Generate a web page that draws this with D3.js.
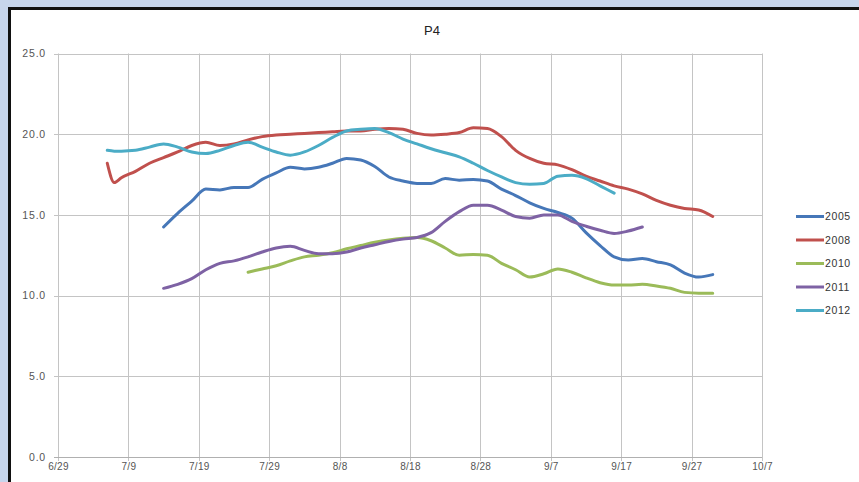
<!DOCTYPE html>
<html>
<head>
<meta charset="utf-8">
<script src="https://cdn.jsdelivr.net/npm/d3@7"></script>
<style>
  html, body { margin: 0; padding: 0; background: #c7d5ec; }
  svg { display: block; }
  text { font-family: "Liberation Sans", Arial, sans-serif; }
</style>
</head>
<body>
<svg id="chart" width="859" height="482"></svg>
<script>
// ---- data ----
const title = "P4";
const dates = ["7/6","7/7","7/8","7/10","7/12","7/14","7/16","7/18","7/20","7/22","7/24","7/26","7/28","7/30",
  "8/1","8/3","8/5","8/7","8/9","8/11","8/13","8/15","8/17","8/19","8/21","8/23","8/25","8/27","8/29","8/31",
  "9/2","9/4","9/6","9/8","9/10","9/12","9/14","9/16","9/18","9/20","9/22","9/24","9/26","9/28","9/30"];
const seriesNames = ["2005","2008","2010","2011","2012"];
const v2005 = [null,null,null,null,null,14.25,15.1,15.85,16.6,16.55,16.7,16.7,17.2,17.6,17.95,17.85,17.95,18.2,18.5,18.4,18.0,17.35,17.1,16.95,16.95,17.25,17.15,17.2,17.1,16.6,16.2,15.75,15.4,15.15,14.8,13.9,13.1,12.4,12.2,12.3,12.1,11.9,11.4,11.15,11.3];
const v2008 = [18.2,17.0,17.3,17.7,18.2,18.55,18.9,19.3,19.5,19.3,19.4,19.65,19.85,19.95,20.0,20.05,20.1,20.15,20.2,20.2,20.3,20.35,20.3,20.05,19.95,20.0,20.1,20.4,20.35,19.85,19.0,18.5,18.2,18.1,17.8,17.4,17.1,16.8,16.6,16.3,15.9,15.6,15.4,15.3,14.9];
const v2010 = [null,null,null,null,null,null,null,null,null,null,null,11.45,11.65,11.85,12.15,12.4,12.5,12.65,12.9,13.1,13.3,13.45,13.55,13.6,13.4,12.95,12.5,12.55,12.5,12.0,11.6,11.15,11.35,11.65,11.45,11.1,10.8,10.65,10.65,10.7,10.6,10.45,10.2,10.15,10.15];
const v2011 = [null,null,null,null,null,10.45,10.7,11.05,11.6,12.0,12.15,12.4,12.7,12.95,13.05,12.8,12.6,12.6,12.7,12.95,13.15,13.35,13.5,13.6,13.9,14.6,15.2,15.6,15.6,15.3,14.9,14.8,15.0,15.0,14.6,14.3,14.05,13.85,14.0,14.25,null,null,null,null,null];
const v2012 = [19.0,18.95,18.95,19.0,19.2,19.4,19.2,18.9,18.8,19.0,19.3,19.5,19.2,18.9,18.7,18.9,19.3,19.8,20.2,20.3,20.35,20.1,19.7,19.4,19.1,18.85,18.6,18.2,17.75,17.35,17.0,16.9,16.95,17.4,17.45,17.25,16.8,16.35,null,null,null,null,null,null,null];
const xTickLabels = ["6/29","7/9","7/19","7/29","8/8","8/18","8/28","9/7","9/17","9/27","10/7"];
const yTicks = [0,5,10,15,20,25];
const colors = ["#4677b8","#c0504d","#9bbb59","#7e62a4","#4bacc6"];

// ---- chart ----
const svg = d3.select("#chart");
const parse = s => d3.timeParse("%m/%d/%Y")(s + "/2012");

// white chart box with dark top/left border
svg.append("rect").attr("x", 10).attr("y", 10).attr("width", 859).attr("height", 482).attr("fill", "#ffffff");
svg.append("line").attr("x1", 9).attr("x2", 859).attr("y1", 8.5).attr("y2", 8.5).attr("stroke", "#111").attr("stroke-width", 3);
svg.append("line").attr("x1", 9.5).attr("x2", 9.5).attr("y1", 7).attr("y2", 482).attr("stroke", "#111").attr("stroke-width", 3);

const x = d3.scaleTime()
  .domain([parse(xTickLabels[0]), parse(xTickLabels[xTickLabels.length - 1])])
  .range([58, 762]);
const y = d3.scaleLinear().domain([0, 25]).range([457, 53.5]);

// gridlines
const g = svg.append("g");
g.selectAll(".vg").data(xTickLabels).join("line")
  .attr("x1", d => Math.round(x(parse(d))) + 0.5).attr("x2", d => Math.round(x(parse(d))) + 0.5)
  .attr("y1", y(25)).attr("y2", y(0) + 4)
  .attr("stroke", "#c4c4c4").attr("stroke-width", 1);
g.selectAll(".hg").data(yTicks).join("line")
  .attr("x1", 54).attr("x2", 762)
  .attr("y1", d => Math.round(y(d)) + 0.5).attr("y2", d => Math.round(y(d)) + 0.5)
  .attr("stroke", d => d === 0 ? "#b0b0b0" : "#c4c4c4").attr("stroke-width", 1);

// axes labels
const xAxis = d3.axisBottom(x).tickValues(xTickLabels.map(parse)).tickFormat(d3.timeFormat("%-m/%-d")).tickSize(0).tickPadding(6);
const xa = svg.append("g").attr("transform", `translate(0,${y(0)})`).call(xAxis);
xa.select(".domain").remove();
xa.selectAll("text").attr("font-size", 10).attr("fill", "#555").attr("letter-spacing", 0.3)
  .attr("font-family", "Liberation Sans, Arial, sans-serif");

const yAxis = d3.axisLeft(y).tickValues(yTicks).tickFormat(d3.format(".1f")).tickSize(0).tickPadding(12);
const ya = svg.append("g").attr("transform", `translate(58,0)`).call(yAxis);
ya.select(".domain").remove();
ya.selectAll("text").attr("font-size", 10.5).attr("fill", "#555").attr("letter-spacing", 0.8)
  .attr("font-family", "Liberation Sans, Arial, sans-serif");

// title
svg.append("text").attr("x", 432).attr("y", 35).attr("text-anchor", "middle")
  .attr("font-size", 13).attr("fill", "#222").text(title);

// lines
const seriesValues = [v2005, v2008, v2010, v2011, v2012];
const line = d3.line()
  .defined(d => d.v !== null)
  .x(d => x(d.date)).y(d => y(d.v))
  .curve(d3.curveMonotoneX);
seriesValues.forEach((vals, i) => {
  const pts = vals.map((v, j) => ({ date: parse(dates[j]), v }));
  svg.append("path").datum(pts)
    .attr("d", line)
    .attr("fill", "none")
    .attr("stroke", colors[i])
    .attr("stroke-width", 3)
    .attr("stroke-linejoin", "round")
    .attr("stroke-linecap", "round");
});

// legend
const lg = svg.append("g");
seriesNames.forEach((name, i) => {
  const ly = 216.5 + i * 23.5;
  lg.append("line").attr("x1", 796).attr("x2", 824).attr("y1", ly).attr("y2", ly)
    .attr("stroke", colors[i]).attr("stroke-width", 3);
  lg.append("text").attr("x", 825).attr("y", ly + 3.5).attr("font-size", 10.5).attr("letter-spacing", 0.6)
    .attr("fill", "#333").text(name);
});
</script>
</body>
</html>
